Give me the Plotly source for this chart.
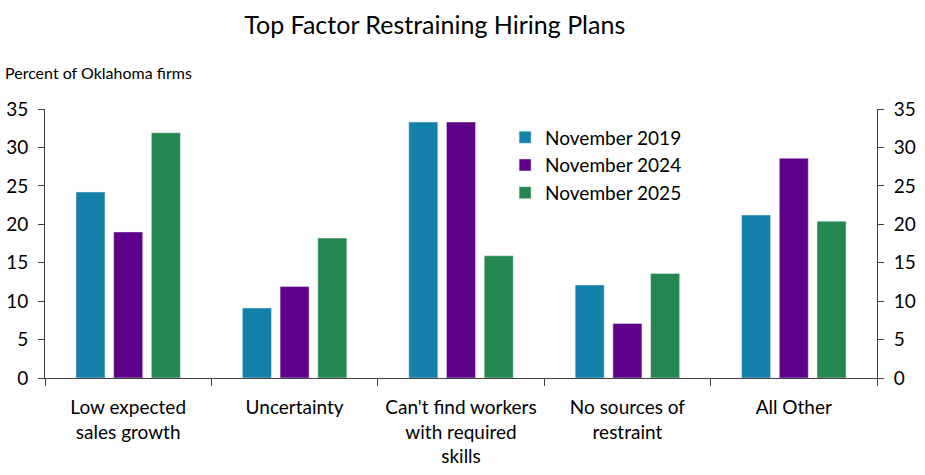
import plotly.graph_objects as go

# Daten
categories = ["Low expected<br>sales growth", "Uncertainty", "Can't find workers<br>with required<br>skills",
              "No sources of<br>restraint", "All Other"]
nov_2019 = [24.2, 9.1, 33.3, 12.1, 21.2]
nov_2024 = [19.0, 11.9, 33.3, 7.1, 28.6]
nov_2025 = [31.9, 18.2, 15.9, 13.6, 20.4]
y_ticks = [0, 5, 10, 15, 20, 25, 30, 35]

font_name = "Lato"

fig = go.Figure()
fig.add_trace(go.Bar(x=categories, y=nov_2019, name="November 2019", marker_color="#1380A9"))
fig.add_trace(go.Bar(x=categories, y=nov_2024, name="November 2024", marker_color="#5F008A"))
fig.add_trace(go.Bar(x=categories, y=nov_2025, name="November 2025", marker_color="#248750"))

# unsichtbare Spur für die rechte Achse
fig.add_trace(go.Scatter(x=categories, y=nov_2019, yaxis="y2", mode="markers",
                         marker=dict(opacity=0), showlegend=False, hoverinfo="skip"))

axis_style = dict(range=[0, 35], tickvals=y_ticks, showgrid=False, showline=True,
                  linecolor="#404040", linewidth=1, ticks="outside", ticklen=6,
                  tickcolor="#404040", tickfont=dict(size=19, color="black"), zeroline=False,
                  ticklabelstandoff=6, automargin=False)

fig.update_layout(
    width=925, height=475,
    margin=dict(l=45, r=48, t=109, b=97),
    plot_bgcolor="white", paper_bgcolor="white",
    font=dict(family=font_name, color="black"),
    title=dict(text="Top Factor Restraining Hiring Plans", x=0.47, xanchor="center",
               y=0.947, yanchor="middle", font=dict(size=25)),
    barmode="group", bargap=0.32, bargroupgap=0.23,
    xaxis=dict(showline=True, linecolor="#404040", linewidth=1, ticks="outside",
               tickson="boundaries", ticklen=7, tickcolor="#404040",
               tickfont=dict(size=19, color="black"), showgrid=False,
               ticklabelstandoff=12, automargin=False),
    yaxis=dict(side="left", **axis_style),
    yaxis2=dict(side="right", overlaying="y", **axis_style),
    legend=dict(x=0.553, y=0.965, xanchor="left", yanchor="top", bgcolor="rgba(0,0,0,0)",
                font=dict(size=19), itemwidth=30, tracegroupgap=0),
    annotations=[dict(text="Percent of Oklahoma firms", xref="paper", yref="paper",
                      x=-0.0505, y=1.1375, xanchor="left", yanchor="middle",
                      showarrow=False, font=dict(size=16))],
)

# Seitenrand entfernen, damit die Grafik bei 0,0 beginnt
fig.write_html("out.html", config={"displayModeBar": False},
               post_script="document.body.style.margin='0';")
